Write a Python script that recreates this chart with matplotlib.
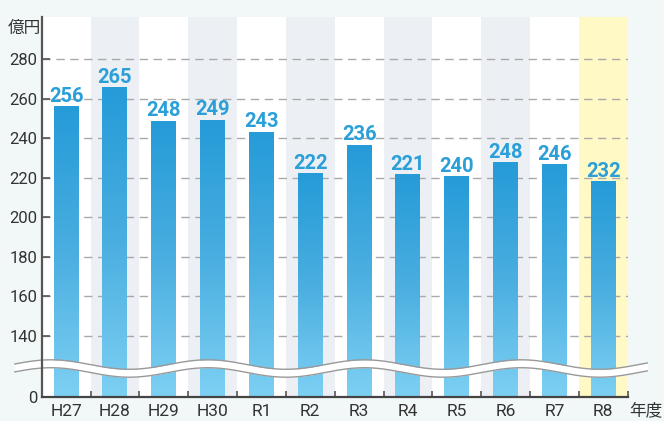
import numpy as np
import matplotlib
matplotlib.use('Agg')
import matplotlib.pyplot as plt
from matplotlib.colors import LinearSegmentedColormap

years = ['H27', 'H28', 'H29', 'H30', 'R1', 'R2', 'R3', 'R4', 'R5', 'R6', 'R7', 'R8']
amounts = [256, 265, 248, 249, 243, 222, 236, 221, 240, 248, 246, 232]
# bar heights as drawn in the picture (some differ from the printed amounts)
bar_tops = [256, 265.5, 248.5, 249, 243, 222, 236.5, 221.5, 220.5, 227.5, 226.5, 218]
ytick_vals = [0, 140, 160, 180, 200, 220, 240, 260, 280]

# broken axis: 0 sits below 140, everything from 140 up is linear
BREAK = 140
ZERO_POS = 109.2


def to_axis(v):
    v = np.asarray(v, dtype=float)
    return np.where(v >= BREAK, v, ZERO_POS + v * (BREAK - ZERO_POS) / BREAK)


plt.rcParams['font.family'] = ['Roboto', 'Noto Sans CJK JP', 'DejaVu Sans']

fig = plt.figure(figsize=(6.64, 4.21), dpi=100)
fig.patch.set_facecolor('#f2f8f8')
ax = fig.add_axes([0.0628, 0.057, 0.8825, 0.9025])
ax.set_facecolor('white')

n = len(years)
x = np.arange(n)
ax.set_xlim(-0.5, n - 0.5)
ax.set_ylim(ZERO_POS, 301.2)

# column backgrounds
for i in range(n):
    if i == n - 1:
        col = '#fff9c6'
    elif i % 2 == 1:
        col = '#eceff4'
    else:
        col = 'white'
    ax.axvspan(i - 0.5, i + 0.5, color=col, zorder=0, lw=0)

# grid
for v in ytick_vals[1:]:
    ax.axhline(to_axis(v), color='#a9a9a9', lw=1, ls=(0, (6, 4)), zorder=1)

# gradient bars
cmap = LinearSegmentedColormap.from_list('bar', ['#7dd0f3', '#4aaee0', '#259bd8'])
grad = np.linspace(0, 1, 256).reshape(-1, 1)
w = 0.51
bottom = float(to_axis(0))
for xi, top, amt in zip(x, bar_tops, amounts):
    top_pos = float(to_axis(top))
    ax.imshow(grad, cmap=cmap, origin='lower', aspect='auto',
              extent=[xi - w / 2, xi + w / 2, bottom, top_pos], zorder=2)
    ax.annotate(str(amt), (xi, top_pos), xytext=(0, 3.5), textcoords='offset points',
                ha='center', va='baseline', fontsize=14.5, fontweight='bold',
                color='#2a9fd8', zorder=5, family=['Roboto'])

# wavy break band
xs = np.linspace(-1.05, 11.9, 600)
period = 3.21
upper = 125.6 + 2.4 * np.cos(2 * np.pi * (xs + 0.31) / period)
lower = upper - 4.0
ax.fill_between(xs, lower, upper, color='white', zorder=6, clip_on=False, lw=0)
ax.plot(xs, upper, color='#999999', lw=1, zorder=7, clip_on=False)
ax.plot(xs, lower, color='#999999', lw=1, zorder=7, clip_on=False)

# axes styling
for s in ['top', 'right']:
    ax.spines[s].set_visible(False)
ax.spines['left'].set_color('#555555')
ax.spines['left'].set_linewidth(1.6)
ax.spines['bottom'].set_color('#444444')
ax.spines['bottom'].set_linewidth(1.6)
ax.spines['left'].set_zorder(8)
ax.spines['bottom'].set_zorder(8)

ax.set_yticks(to_axis(ytick_vals))
ax.set_yticklabels([str(v) for v in ytick_vals])
ax.tick_params(axis='y', direction='in', length=6, width=1.2, color='#555555',
               labelsize=12, labelcolor='#333333', pad=3)

ax.set_xticks(x)
ax.set_xticklabels(years)
ax.set_xticks(np.arange(n) + 0.5, minor=True)
ax.tick_params(axis='x', which='major', length=0, labelsize=12.5,
               labelcolor='#333333', pad=5)
ax.tick_params(axis='x', which='minor', direction='in', length=4, width=1.2,
               color='#555555')

fig.text(8 / 664, 1 - 28 / 421, '億円', fontsize=12, color='#333333',
         va='center', ha='left', family=['Noto Sans CJK JP'])
fig.text(629 / 664, 1 - 411 / 421, '年度', fontsize=12, color='#333333',
         va='center', ha='left', family=['Noto Sans CJK JP'])

plt.savefig('out.png', dpi=100, facecolor=fig.get_facecolor())
